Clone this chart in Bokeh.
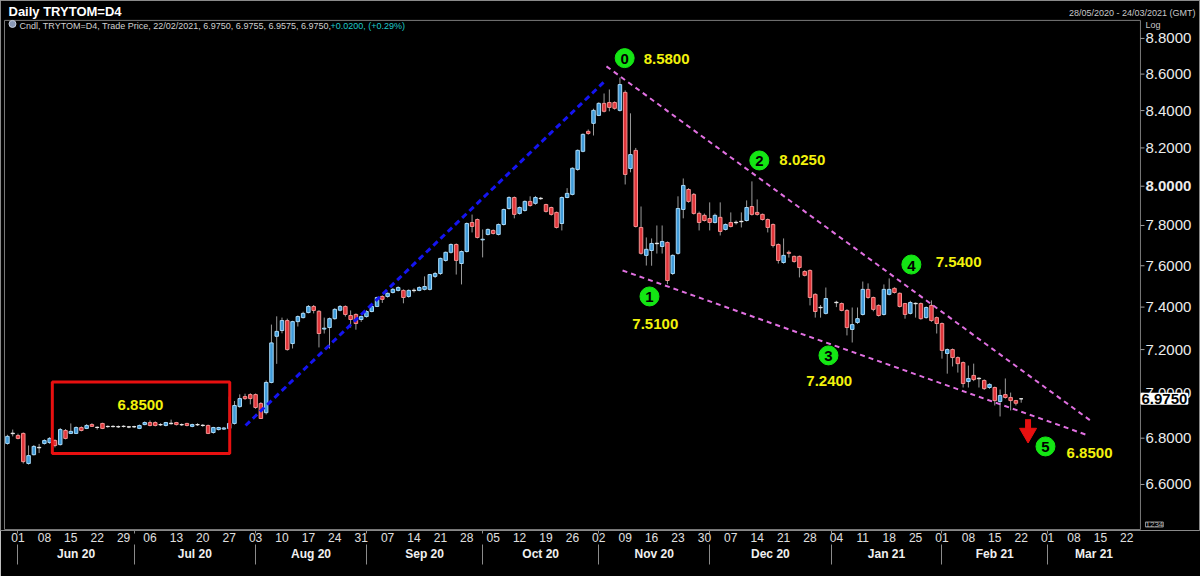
import numpy as np
import pandas as pd
from bokeh.plotting import figure
from bokeh.models import Range1d, FixedTicker, LinearAxis, Label, ColumnDataSource
from bokeh.core.properties import value
from bokeh.embed import file_html
from bokeh.resources import INLINE

FONT = "Liberation Sans"

# ---------------- data (daily OHLC, TRY per 1 USD) ----------------
START = "2020-05-28"
END = "2021-02-22"
MISSING = ["2021-01-01"]

opens = [6.777, 6.820, 6.812, 6.821, 6.690, 6.728, 6.758, 6.777, 6.781, 6.790,
         6.772, 6.834, 6.821, 6.821, 6.847, 6.843, 6.860, 6.848, 6.865, 6.851,
         6.852, 6.850, 6.852, 6.849, 6.850, 6.843, 6.860, 6.869, 6.869, 6.859,
         6.856, 6.864, 6.869, 6.859, 6.865, 6.852, 6.859, 6.857, 6.856, 6.825,
         6.838, 6.840, 6.843, 6.865, 6.940, 6.985, 6.994, 6.994, 6.954, 6.913,
         7.049, 7.262, 7.289, 7.336, 7.228, 7.331, 7.350, 7.374, 7.403, 7.380,
         7.296, 7.303, 7.345, 7.385, 7.403, 7.360, 7.365, 7.341, 7.355, 7.379,
         7.403, 7.451, 7.451, 7.470, 7.480, 7.480, 7.451, 7.479, 7.480, 7.485,
         7.485, 7.548, 7.562, 7.626, 7.666, 7.705, 7.611, 7.670, 7.815, 7.830,
         7.728, 7.755, 7.775, 7.755, 7.805, 7.886, 7.942, 7.861, 7.876, 7.922,
         7.912, 7.938, 7.906, 7.891, 7.866, 7.810, 7.942, 7.958, 8.087, 8.182,
         8.288, 8.331, 8.374, 8.439, 8.444, 8.444, 8.401, 8.499, 8.092, 8.187,
         7.790, 7.651, 7.675, 7.709, 7.695, 7.715, 7.562, 7.661, 7.881, 7.983,
         7.958, 7.861, 7.851, 7.835, 7.815, 7.841, 7.780, 7.815, 7.814, 7.819,
         7.825, 7.896, 7.866, 7.856, 7.830, 7.805, 7.705, 7.616, 7.666, 7.646,
         7.646, 7.572, 7.577, 7.461, 7.397, 7.370,
         7.421, 7.417, 7.384, 7.294, 7.327, 7.365, 7.485, 7.446, 7.408, 7.365,
         7.461, 7.490, 7.466, 7.417, 7.370, 7.416, 7.417, 7.350, 7.408, 7.350,
         7.322, 7.182, 7.200, 7.163, 7.140, 7.053, 7.081, 7.066, 7.058, 7.026,
         7.026, 6.963, 6.994, 6.981, 6.967, 6.9750]
highs = [6.815, 6.838, 6.820, 6.825, 6.768, 6.770, 6.775, 6.795, 6.805, 6.795,
         6.845, 6.840, 6.865, 6.852, 6.852, 6.862, 6.866, 6.852, 6.868, 6.856,
         6.857, 6.856, 6.857, 6.854, 6.855, 6.860, 6.874, 6.878, 6.874, 6.866,
         6.872, 6.882, 6.872, 6.865, 6.868, 6.864, 6.866, 6.862, 6.860, 6.850,
         6.850, 6.849, 6.985, 6.965, 6.995, 6.998, 7.000, 6.999, 6.960, 7.058,
         7.317, 7.356, 7.350, 7.345, 7.335, 7.360, 7.378, 7.410, 7.410, 7.385,
         7.350, 7.350, 7.395, 7.410, 7.408, 7.384, 7.370, 7.360, 7.385, 7.410,
         7.450, 7.456, 7.470, 7.492, 7.500, 7.485, 7.485, 7.490, 7.500, 7.548,
         7.560, 7.570, 7.640, 7.670, 7.710, 7.710, 7.675, 7.815, 7.855, 7.835,
         7.780, 7.785, 7.780, 7.810, 7.885, 7.948, 7.947, 7.896, 7.927, 7.948,
         7.950, 7.945, 7.910, 7.895, 7.870, 7.947, 7.990, 8.098, 8.192, 8.277,
         8.298, 8.410, 8.445, 8.493, 8.515, 8.450, 8.580, 8.510, 8.385, 8.200,
         7.896, 7.740, 7.735, 7.800, 7.800, 7.720, 7.656, 7.948, 8.040, 7.990,
         7.965, 7.870, 7.860, 7.917, 7.860, 7.917, 7.810, 7.866, 7.825, 7.866,
         7.927, 8.025, 7.932, 7.860, 7.835, 7.810, 7.710, 7.735, 7.675, 7.650,
         7.650, 7.578, 7.582, 7.466, 7.410, 7.494,
         7.430, 7.422, 7.390, 7.398, 7.398, 7.523, 7.514, 7.450, 7.413, 7.509,
         7.538, 7.495, 7.470, 7.420, 7.430, 7.422, 7.422, 7.403, 7.432, 7.355,
         7.327, 7.205, 7.205, 7.168, 7.145, 7.126, 7.135, 7.072, 7.063, 7.045,
         7.030, 7.017, 7.067, 7.003, 6.970, 6.9755]
lows = [6.772, 6.808, 6.795, 6.690, 6.685, 6.725, 6.735, 6.772, 6.775, 6.760,
        6.768, 6.795, 6.818, 6.818, 6.830, 6.840, 6.850, 6.838, 6.840, 6.846,
        6.847, 6.845, 6.847, 6.844, 6.845, 6.840, 6.857, 6.852, 6.852, 6.854,
        6.852, 6.860, 6.856, 6.854, 6.852, 6.848, 6.854, 6.850, 6.818, 6.820,
        6.834, 6.836, 6.838, 6.860, 6.935, 6.970, 6.950, 6.930, 6.885, 6.905,
        7.045, 7.134, 7.276, 7.195, 7.205, 7.308, 7.346, 7.370, 7.370, 7.210,
        7.275, 7.205, 7.340, 7.380, 7.355, 7.303, 7.293, 7.330, 7.350, 7.375,
        7.400, 7.420, 7.445, 7.465, 7.475, 7.418, 7.445, 7.470, 7.476, 7.480,
        7.480, 7.540, 7.555, 7.620, 7.660, 7.557, 7.509, 7.665, 7.765, 7.735,
        7.641, 7.750, 7.755, 7.750, 7.800, 7.880, 7.836, 7.855, 7.870, 7.895,
        7.905, 7.930, 7.865, 7.850, 7.785, 7.775, 7.938, 7.953, 8.080, 8.177,
        8.270, 8.266, 8.370, 8.390, 8.396, 8.405, 8.395, 8.009, 8.072, 7.790,
        7.655, 7.601, 7.600, 7.660, 7.660, 7.510, 7.555, 7.655, 7.836, 7.915,
        7.855, 7.775, 7.820, 7.775, 7.810, 7.750, 7.775, 7.790, 7.805, 7.790,
        7.820, 7.850, 7.850, 7.825, 7.765, 7.690, 7.611, 7.610, 7.640, 7.615,
        7.543, 7.548, 7.408, 7.350, 7.350, 7.365,
        7.400, 7.380, 7.266, 7.233, 7.320, 7.360, 7.440, 7.380, 7.355, 7.360,
        7.456, 7.465, 7.398, 7.345, 7.365, 7.350, 7.340, 7.345, 7.330, 7.275,
        7.158, 7.089, 7.122, 7.094, 7.026, 7.026, 7.055, 7.026, 7.015, 7.020,
        6.945, 6.896, 6.976, 6.923, 6.945, 6.9575]
closes = [6.808, 6.822, 6.799, 6.698, 6.724, 6.764, 6.760, 6.790, 6.799, 6.768,
          6.838, 6.799, 6.830, 6.847, 6.834, 6.856, 6.852, 6.847, 6.843, 6.852,
          6.851, 6.851, 6.852, 6.850, 6.851, 6.856, 6.869, 6.856, 6.856, 6.860,
          6.869, 6.866, 6.860, 6.860, 6.856, 6.860, 6.860, 6.856, 6.821, 6.847,
          6.847, 6.845, 6.865, 6.945, 6.976, 6.976, 6.976, 6.936, 6.887, 7.049,
          7.231, 7.285, 7.336, 7.200, 7.331, 7.355, 7.370, 7.403, 7.384, 7.275,
          7.300, 7.345, 7.389, 7.403, 7.365, 7.341, 7.322, 7.355, 7.379, 7.403,
          7.446, 7.437, 7.466, 7.485, 7.494, 7.446, 7.480, 7.481, 7.494, 7.499,
          7.557, 7.562, 7.636, 7.666, 7.705, 7.626, 7.670, 7.810, 7.795, 7.740,
          7.731, 7.780, 7.760, 7.805, 7.881, 7.942, 7.856, 7.891, 7.922, 7.901,
          7.942, 7.936, 7.871, 7.856, 7.790, 7.942, 7.963, 8.093, 8.187, 8.272,
          8.277, 8.401, 8.439, 8.396, 8.417, 8.412, 8.542, 8.061, 8.165, 7.795,
          7.661, 7.681, 7.710, 7.711, 7.720, 7.528, 7.651, 7.886, 8.004, 7.922,
          7.861, 7.815, 7.825, 7.815, 7.851, 7.770, 7.805, 7.795, 7.816, 7.821,
          7.891, 7.856, 7.856, 7.830, 7.790, 7.700, 7.626, 7.651, 7.661, 7.621,
          7.591, 7.553, 7.446, 7.379, 7.399, 7.441,
          7.423, 7.384, 7.303, 7.317, 7.345, 7.485, 7.446, 7.389, 7.360, 7.485,
          7.485, 7.470, 7.403, 7.365, 7.422, 7.418, 7.345, 7.398, 7.336, 7.322,
          7.196, 7.200, 7.163, 7.135, 7.044, 7.067, 7.062, 7.068, 7.021, 7.040,
          6.967, 6.990, 6.981, 6.967, 6.955, 6.9750]

last_price = 6.9750
y_ticks = [6.6, 6.8, 7.0, 7.2, 7.4, 7.6, 7.8, 8.0, 8.2, 8.4, 8.6, 8.8]
month_names = ["Jun 20", "Jul 20", "Aug 20", "Sep 20", "Oct 20", "Nov 20",
               "Dec 20", "Jan 21", "Feb 21", "Mar 21"]

# wave points (trading-day index, price) and their level labels
wave_ids = ["0", "1", "2", "3", "4", "5"]
wave_x = [116.9, 121.6, 142.4, 155.5, 171.2, 196.6]
wave_y = [8.689, 7.451, 8.134, 7.173, 7.606, 6.764]
level_text = ["8.5800", "7.5100", "8.0250", "7.2400", "7.5400", "6.8500"]
level_x = [120.5, 122.7, 146.2, 151.3, 175.8, 200.6]
level_y = [8.684, 7.322, 8.134, 7.056, 7.616, 6.737]
level_align = ["left", "center", "left", "left", "left", "left"]

# ---------------- positions ----------------
d0 = np.datetime64(START)
dates = [d for d in pd.bdate_range(START, END) if d.strftime("%Y-%m-%d") not in MISSING]
xs = np.busday_count(d0, np.array([d.date() for d in dates], dtype="datetime64[D]"))

o = np.array(opens); h = np.array(highs); l = np.array(lows); c = np.array(closes)
up = c >= o
doji = np.abs(c - o) < 0.003
fill = np.where(doji, "#d8d8d8", np.where(up, "#3f9ad8", "#e0353a"))
edge = np.where(doji, "#e8e8e8", np.where(up, "#a6d8f7", "#f58f8f"))
src = ColumnDataSource(dict(x=xs, o=o, h=h, l=l, c=c,
                            top=np.maximum(o, c), bottom=np.minimum(o, c),
                            fill=fill, edge=edge))

X0, X1 = -1.314, 225.96          # whole canvas width in trading-day units
Y0, Y1 = 6.407, 9.018            # canvas height (above the date axis) in price units
AX_X = 214.59                    # price-axis line (right edge of the chart area)
CH_LEFT, CH_TOP, CH_BOT = -0.557, 8.903, 6.411

p = figure(width=1200, height=576, output_backend="svg", toolbar_location=None,
           y_axis_type="log", y_axis_location=None,
           x_range=Range1d(X0, X1), y_range=Range1d(Y0, Y1),
           min_border_left=0, min_border_right=0, min_border_top=0, min_border_bottom=46)
p.background_fill_color = "black"
p.border_fill_color = "black"
p.outline_line_color = "#8a8a8a"
p.xgrid.visible = False
p.ygrid.visible = False

# chart area border
p.quad(left=[CH_LEFT], right=[AX_X], top=[CH_TOP], bottom=[CH_BOT],
       fill_alpha=0, line_color="#7a7a7a", line_width=1)

# candles
p.segment(x0="x", y0="h", x1="x", y1="l", source=src, line_color="#9a9a9a", line_width=1)
p.vbar(x="x", width=0.66, top="top", bottom="bottom", source=src,
       fill_color="fill", line_color="edge", line_width=1)

# price scale (log) on the right
tsrc = ColumnDataSource(dict(
    y=y_ticks,
    txt=["%.4f" % t for t in y_ticks],
    style=["bold" if abs(t - 8.0) < 1e-9 else "normal" for t in y_ticks],
    x0=[AX_X] * len(y_ticks), x1=[AX_X + 0.76] * len(y_ticks), xl=[AX_X + 0.95] * len(y_ticks)))
p.segment(x0="x0", y0="y", x1="x1", y1="y", source=tsrc, line_color="#a0a0a0", line_width=1)
p.text(x="xl", y="y", text="txt", source=tsrc, text_font=value(FONT), text_font_size="15px",
       text_font_style="style", text_color="#ececec", text_baseline="middle", text_align="left")

# date axes (weekly labels, month labels)
mondays = pd.date_range("2020-06-01", "2021-03-22", freq="7D")
mon_idx = [int(np.busday_count(d0, np.datetime64(d.date()))) for d in mondays]
month_starts = pd.date_range("2020-06-01", "2021-03-01", freq="MS")
ms_idx = []
for m in month_starts:
    first = np.busday_offset(np.datetime64(m.date()), 0, roll="forward")
    ms_idx.append(int(np.busday_count(d0, first)))
centers = []
for k, s in enumerate(ms_idx):
    e = ms_idx[k + 1] if k + 1 < len(ms_idx) else AX_X
    centers.append((s + e) / 2.0)

xa = p.xaxis[0]
xa.ticker = FixedTicker(ticks=mon_idx, minor_ticks=ms_idx)
xa.major_label_overrides = {i: d.strftime("%d") for i, d in zip(mon_idx, mondays)}
xa.major_label_text_color = "#e0e0e0"
xa.major_label_text_font = FONT
xa.major_label_text_font_size = "12px"
xa.axis_line_color = None
xa.major_tick_line_color = None
xa.major_tick_out = 0
xa.major_tick_in = 0
xa.minor_tick_line_color = "#8a8a8a"
xa.minor_tick_out = 3
xa.minor_tick_in = 0
xa.major_label_standoff = -1

ma = LinearAxis(ticker=FixedTicker(ticks=centers, minor_ticks=ms_idx))
ma.major_label_overrides = {cc: n for cc, n in zip(centers, month_names)}
ma.major_label_text_color = "#f0f0f0"
ma.major_label_text_font = FONT
ma.major_label_text_font_style = "bold"
ma.major_label_text_font_size = "12px"
ma.axis_line_color = None
ma.major_tick_line_color = None
ma.major_tick_out = 0
ma.major_tick_in = 0
ma.minor_tick_line_color = "#8a8a8a"
ma.minor_tick_out = 20
ma.minor_tick_in = 0
ma.major_label_standoff = -18
p.add_layout(ma, "below")

# ---------------- annotations ----------------
# consolidation box
p.quad(left=[8.5], right=[42.1], top=[7.051], bottom=[6.733],
       fill_alpha=0, line_color="#e81010", line_width=3)
p.add_layout(Label(x=25.2, y=6.949, text="6.8500", text_align="center", text_baseline="middle",
                   text_color="#f2f20c", text_font=FONT, text_font_style="bold",
                   text_font_size="15px"))
# trend lines
p.line([45.1, 112.9], [6.856, 8.554], line_color="#1414f0", line_width=3, line_dash="6 4")
p.line([113.45, 205.1], [8.643, 6.878], line_color="#e070e0", line_width=2, line_dash="5 4")
p.line([116.5, 204.7], [7.577, 6.812], line_color="#e070e0", line_width=2, line_dash="5 4")

# red arrow
p.segment(x0=[193.3], y0=[6.884], x1=[193.3], y1=[6.836], line_color="#e81010", line_width=6)
p.scatter(x=[193.3], y=[6.822], marker="inverted_triangle", size=17,
          fill_color="#e81010", line_color="#e81010")

# wave markers
p.scatter(x=wave_x, y=wave_y, size=19, fill_color="#14e614", line_color="#14e614")
for wid, wx, wy in zip(wave_ids, wave_x, wave_y):
    p.add_layout(Label(x=wx, y=wy, text=wid, text_align="center", text_baseline="middle",
                       text_color="black", text_font=FONT, text_font_style="bold",
                       text_font_size="15px", y_offset=-1))
for t, lx, ly, al in zip(level_text, level_x, level_y, level_align):
    p.add_layout(Label(x=lx, y=ly, text=t, text_align=al, text_baseline="middle",
                       text_color="#f2f20c", text_font=FONT, text_font_style="bold",
                       text_font_size="15px"))

# header texts
p.add_layout(Label(x=0.20, y=8.9546, text="Daily TRYTOM=D4", text_baseline="middle",
                   text_color="white", text_font=FONT, text_font_style="bold",
                   text_font_size="13px"))
p.add_layout(Label(x=225.01, y=8.9431, text="28/05/2020 - 24/03/2021 (GMT)", text_align="right",
                   text_baseline="middle", text_color="#c8c8c8", text_font=FONT,
                   text_font_size="9px"))
p.add_layout(Label(x=215.54, y=8.8741, text="Log", text_baseline="middle",
                   text_color="#c8c8c8", text_font=FONT, text_font_size="9px"))
p.scatter(x=[0.958], y=[8.8827], size=7, fill_color="#8a9ab8", line_color="#c8d0e0")
p.add_layout(Label(x=2.284, y=8.8709,
                   text="Cndl, TRYTOM=D4, Trade Price, 22/02/2021, 6.9750, 6.9755, 6.9575, 6.9750,",
                   text_baseline="middle", text_color="#d0d0d0", text_font=FONT,
                   text_font_size="9px"))
p.add_layout(Label(x=61.19, y=8.8709, text="+0.0200, (+0.29%)", text_baseline="middle",
                   text_color="#1ec8c8", text_font=FONT, text_font_size="9px"))

# last price marker on the price scale
p.add_layout(Label(x=AX_X + 0.19, y=last_price, text="%.4f" % last_price, text_baseline="middle",
                   text_color="black", text_font=FONT, text_font_style="bold",
                   text_font_size="15px", background_fill_color="white",
                   border_line_color="white", border_line_width=2))
p.add_layout(Label(x=215.54, y=6.4319, text="1234", text_baseline="middle",
                   text_color="#b0b0b0", text_font=FONT, text_font_size="8px",
                   border_line_color="#909090", background_fill_color="black"))

open("out.html", "w").write(file_html(p, INLINE))
